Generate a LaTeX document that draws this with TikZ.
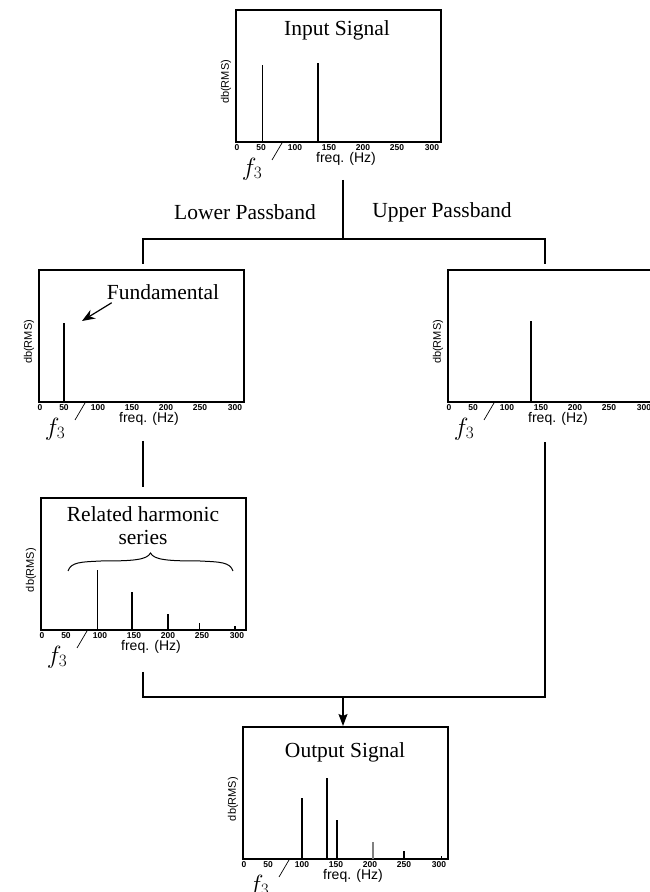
\documentclass[tikz,border=0pt]{standalone}
\usepackage{fontspec}
\setmainfont{Liberation Serif}
\newfontfamily\axisfont{Liberation Sans}
\usetikzlibrary{arrows.meta}
\begin{document}
\begin{tikzpicture}[x=1pt,y=1pt,
	title/.style={font=\fontsize{21.5}{23}\selectfont,inner sep=0pt},
	tick/.style={font=\axisfont\bfseries\fontsize{8.5}{8.5}\selectfont,inner sep=0pt,anchor=north},
	peak/.style={line width=1.8pt},
	thinpeak/.style={line width=0.9pt},
	wire/.style={line width=1.1pt},
	pics/frame/.style={code={
		\draw[line width=1.3pt] (0,0) rectangle (205,132);
		\draw[line width=1.6pt] (0,0) -- (205,0);
		\foreach \f/\x in {0/1,50/25,100/59,150/93,200/127,250/161,300/196}
			\node[tick] (-t\f) at (\x,-2.5) {\f};
		\node[font=\axisfont\fontsize{14}{14}\selectfont,inner sep=0pt] (-freq) at (110,-17) {freq. (Hz)};
		\node[font=\axisfont\fontsize{11}{11}\selectfont,rotate=90,inner sep=0pt] (-db) at (-10,60) {db(RMS)};
		\node[font=\fontsize{25}{25}\selectfont,inner sep=0pt] (-f) at (16,-27) {$f_3$};
		\coordinate (-tail) at (36,-18);
		\coordinate (-cut) at (46,-1);
		\draw[line width=0.7pt] (-tail) -- (-cut);
	}}]
	\useasboundingbox (0,0) rectangle (650,892);
	\begin{scope}[shift={(236,750)}]
		\pic (in) {frame};
		\node[title] (intitle) at (101,112) {Input Signal};
		\draw[thinpeak] (26,0) -- (26,77);
		\draw[peak] (82,0) -- (82,79);
	\end{scope}
	\coordinate (top) at (343,712);
	\coordinate (split) at (343,653);
	\coordinate (lowsplit) at (143,653);
	\coordinate (upsplit) at (545,653);
	\coordinate (lowin) at (143,628);
	\coordinate (upin) at (545,628);
	\draw[wire] (top) -- (split);
	\draw[wire] (lowin) -- (lowsplit) -- (upsplit) -- (upin);
	\node[title] (lower) at (245,680) {Lower Passband};
	\node[title] (upper) at (442,680) {Upper Passband};
	\begin{scope}[shift={(39,490)}]
		\pic (low) {frame};
		\draw[peak] (25,0) -- (25,79);
		\node[title] (fund) at (124,110) {Fundamental};
		\coordinate (fundtip) at (43,81);
		\draw[line width=1.2pt,-{Stealth[length=13pt,width=10pt]}] ([xshift=5pt,yshift=-3pt]fund.south west) -- (fundtip);
	\end{scope}
	\begin{scope}[shift={(448,490)}]
		\pic (up) {frame};
		\draw[peak] (83,0) -- (83,81);
	\end{scope}
	\coordinate (fundout) at (143,451);
	\coordinate (harmin) at (143,405);
	\draw[wire] (fundout) -- (harmin);
	\begin{scope}[shift={(41,262)}]
		\pic (harm) {frame};
		\node[title,align=center] (related) at (102,104) {Related harmonic\\series};
		\draw[line width=1pt] (27,59) .. controls (30,68) and (40,68) .. (60,69) .. controls (92,69) and (106,70) .. (109.5,77) .. controls (113,70) and (127,69) .. (159,69) .. controls (179,68) and (189,68) .. (192,59);
		\draw[thinpeak] (56,0) -- (56,60);
		\draw[peak] (91,0) -- (91,38);
		\draw[peak] (127,0) -- (127,16);
		\draw[thinpeak] (158,0) -- (158,7);
		\draw[peak] (194,0) -- (194,4);
	\end{scope}
	\coordinate (harmout) at (143,220);
	\coordinate (lowjoin) at (143,195);
	\coordinate (upjoin) at (545,195);
	\coordinate (upout) at (545,450);
	\coordinate (join) at (343,195);
	\coordinate (outin) at (343,166);
	\draw[wire] (harmout) -- (lowjoin) -- (upjoin) -- (upout);
	\draw[wire,-{Stealth[length=12pt,width=9pt,inset=2pt]}] (join) -- (outin);
	\begin{scope}[shift={(243,33)}]
		\pic (out) {frame};
		\node[title] (outtitle) at (102,107) {Output Signal};
		\draw[peak] (59,0) -- (59,61);
		\draw[peak] (84,0) -- (84,81);
		\draw[peak] (94,0) -- (94,39);
		\draw[line width=1.4pt,gray] (130,0) -- (130,17);
		\draw[peak] (161,0) -- (161,8);
		\draw[thinpeak] (198,0) -- (198,3);
	\end{scope}
\end{tikzpicture}
\end{document}
